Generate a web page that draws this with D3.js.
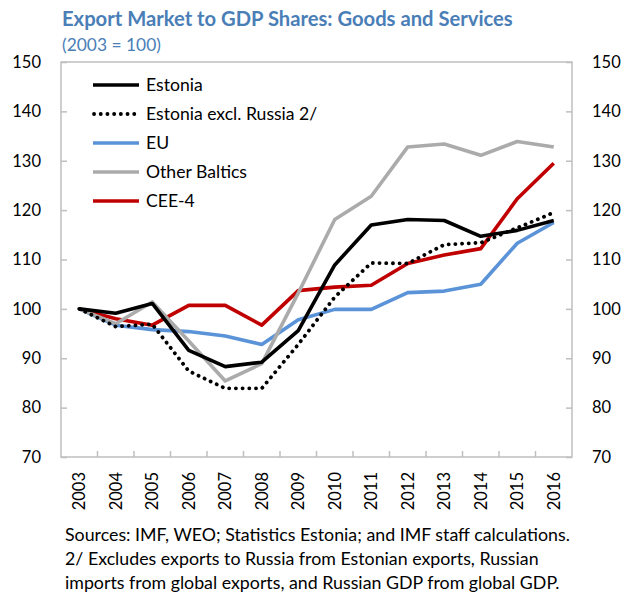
<!DOCTYPE html>
<html><head><meta charset="utf-8">
<script src="https://cdn.jsdelivr.net/npm/d3@7"></script>
<style>body{margin:0;background:#fff}svg{display:block}</style>
</head><body>
<svg id="c" width="623" height="595"></svg>
<script>
const years = ["2003","2004","2005","2006","2007","2008","2009","2010","2011","2012","2013","2014","2015","2016"];
const estonia = [100,99.1,101.1,91.6,88.3,89.2,95.6,108.9,117.0,118.1,117.9,114.7,115.9,117.9];
const estoniaExRussia = [100,96.4,96.9,87.4,83.9,83.9,92.8,102.4,109.3,109.2,113.0,113.4,116.4,119.5];
const eu = [100,96.7,95.8,95.4,94.5,92.8,97.8,99.9,99.9,103.3,103.6,105.0,113.3,117.5];
const otherBaltics = [100,97.0,101.4,93.5,85.4,88.9,103.2,118.1,122.8,132.8,133.4,131.1,133.9,132.8];
const cee4 = [100,98.0,96.7,100.7,100.7,96.7,103.7,104.4,104.8,109.2,110.9,112.2,122.3,129.5];
const yTicks = [70,80,90,100,110,120,130,140,150];
const seriesNames = ["Estonia","Estonia excl. Russia 2/","EU","Other Baltics","CEE-4"];
const titleText = "Export Market to GDP Shares: Goods and Services";
const subtitleText = "(2003 = 100)";
const notes = ["Sources: IMF, WEO; Statistics Estonia; and IMF staff calculations.",
 "2/ Excludes exports to Russia from Estonian exports, Russian",
 "imports from global exports, and Russian GDP from global GDP."];

const series = [
 {name: seriesNames[0], values: estonia, color:"#000000", dash:null},
 {name: seriesNames[1], values: estoniaExRussia, color:"#000000", dash:"0.1 6.6"},
 {name: seriesNames[2], values: eu, color:"#5B93D8", dash:null},
 {name: seriesNames[3], values: otherBaltics, color:"#ABABAB", dash:null},
 {name: seriesNames[4], values: cee4, color:"#C00000", dash:null}
];
const drawOrder = [2,4,3,0,1];

const svg = d3.select("#c");
const font = "Lato, 'Open Sans', sans-serif";
const L = 61, R = 572, T = 62, B = 457;
const x = d3.scaleBand().domain(years).range([L,R]);
const y = d3.scaleLinear().domain([70,150]).range([B,T]);

svg.append("text").attr("x",62).attr("y",26).attr("font-family",font).attr("font-weight","bold")
  .attr("font-size",20.2).attr("fill","#4A7EB7").text(titleText);
svg.append("text").attr("x",62).attr("y",51).attr("font-family",font)
  .attr("font-size",17.4).attr("fill","#4A7EB7").text(subtitleText);

// frame
svg.append("rect").attr("x",L).attr("y",T).attr("width",R-L).attr("height",B-T)
  .attr("fill","none").attr("stroke","#BFBFBF").attr("stroke-width",1.5);

const yl = svg.append("g").attr("transform",`translate(${L},0)`)
  .call(d3.axisLeft(y).tickValues(yTicks).tickSize(-6).tickPadding(20));
const yr = svg.append("g").attr("transform",`translate(${R},0)`)
  .call(d3.axisRight(y).tickValues(yTicks).tickSize(-6).tickPadding(20));
[yl,yr].forEach(g=>{
  g.select(".domain").remove();
  g.selectAll(".tick line").attr("stroke","#BFBFBF").attr("stroke-width",1.5);
  g.selectAll("text").attr("font-family",font).attr("font-size",16.5).attr("fill","#000");
});

const xb = svg.append("g").attr("transform",`translate(0,${B})`)
  .call(d3.axisBottom(x).tickSize(0).tickPadding(0));
xb.select(".domain").remove();
xb.selectAll(".tick text").attr("font-family",font).attr("font-size",16.5).attr("fill","#000")
  .attr("transform","rotate(-90)").attr("text-anchor","end").attr("x",-15).attr("y",0).attr("dy","0.36em");
svg.append("g").selectAll("line").data(years.slice(1)).join("line")
  .attr("x1",d=>x(d)).attr("x2",d=>x(d)).attr("y1",B).attr("y2",B-6)
  .attr("stroke","#BFBFBF").attr("stroke-width",1.5);

const line = d3.line().x((d,i)=>x(years[i])+x.bandwidth()/2).y(d=>y(d));
drawOrder.forEach(k=>{
  const s = series[k];
  const p = svg.append("path").attr("d",line(s.values)).attr("fill","none")
    .attr("stroke",s.color).attr("stroke-width",3.6).attr("stroke-linejoin","round");
  if(s.dash){ p.attr("stroke-dasharray",s.dash).attr("stroke-linecap","round").attr("stroke-width",3.8); }
});

const lg = svg.append("g");
series.forEach((s,i)=>{
  const yy = 85 + i*29;
  const ln = lg.append("line").attr("x1",93).attr("x2",139).attr("y1",yy).attr("y2",yy)
    .attr("stroke",s.color).attr("stroke-width",3.6);
  if(s.dash) ln.attr("stroke-dasharray",s.dash).attr("stroke-linecap","round").attr("stroke-width",3.8).attr("x1",94);
  lg.append("text").attr("x",146).attr("y",yy).attr("dy","0.35em").attr("font-family",font)
    .attr("font-size",17.6).attr("fill","#000").text(s.name);
});

notes.forEach((t,i)=>{
  svg.append("text").attr("x",65).attr("y",541+i*24).attr("font-family",font)
    .attr("font-size",17.8).attr("fill","#000").text(t);
});
</script>
</body></html>
